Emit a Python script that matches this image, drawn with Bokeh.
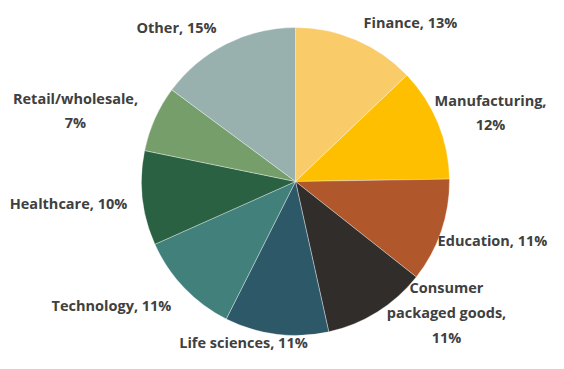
import math
from bokeh.plotting import figure
from bokeh.models import ColumnDataSource, Range1d
from bokeh.core.properties import value
from bokeh.embed import file_html
from bokeh.resources import INLINE

# ---- data ----
categories = ["Finance", "Manufacturing", "Education", "Consumer packaged goods",
              "Life sciences", "Technology", "Healthcare", "Retail/wholesale", "Other"]
shares = [13, 12, 11, 11, 11, 11, 10, 7, 15]
label_texts = ["Finance, 13%", "Manufacturing,\n12%", "Education, 11%",
               "Consumer\npackaged goods,\n11%", "Life sciences, 11%",
               "Technology, 11%", "Healthcare, 10%", "Retail/wholesale,\n7%",
               "Other, 15%"]
colors = ["#F9CB69", "#FEBF00", "#B0572C", "#312D2A", "#2C5868",
          "#42807B", "#2A6142", "#769E6B", "#98B0AE"]

# ---- layout (picture pixels -> data coordinates) ----
W, H = 548, 353
def dx(px): return px
def dy(py): return H - py

cx, cy, R = dx(295), dy(181), 154
# label anchor positions in picture pixels (center of text block)
label_px = [(410, 22), (490, 112), (492, 240), (446, 312), (243, 342),
            (111, 305), (68, 203), (75, 110), (176, 27)]

total = sum(shares)
starts, ends = [], []
cum = 0.0
for s in shares:
    starts.append(math.pi / 2 - 2 * math.pi * cum / total)
    cum += s
    ends.append(math.pi / 2 - 2 * math.pi * cum / total)

src = ColumnDataSource(dict(cat=categories, start=starts, end=ends, color=colors))
lsrc = ColumnDataSource(dict(
    x=[dx(p[0]) for p in label_px],
    y=[dy(p[1]) for p in label_px],
    text=label_texts))

p = figure(width=W, height=H, output_backend="svg", toolbar_location=None,
           x_range=Range1d(0, W), y_range=Range1d(0, H),
           min_border=0, outline_line_color=None)
p.axis.visible = False
p.grid.visible = False
p.background_fill_color = "white"
p.border_fill_color = "white"

p.wedge(x=cx, y=cy, radius=R, start_angle="start", end_angle="end",
        direction="clock", fill_color="color", line_color="white",
        line_width=0.6, line_alpha=0.6, source=src)

p.text(x="x", y="y", text="text", source=lsrc, text_align="center",
       text_baseline="middle", text_font=value("Open Sans"), text_font_style="bold",
       text_font_size="14.5px", text_color="#404040", text_line_height=1.3)

open("out.html", "w").write(file_html(p, INLINE))
